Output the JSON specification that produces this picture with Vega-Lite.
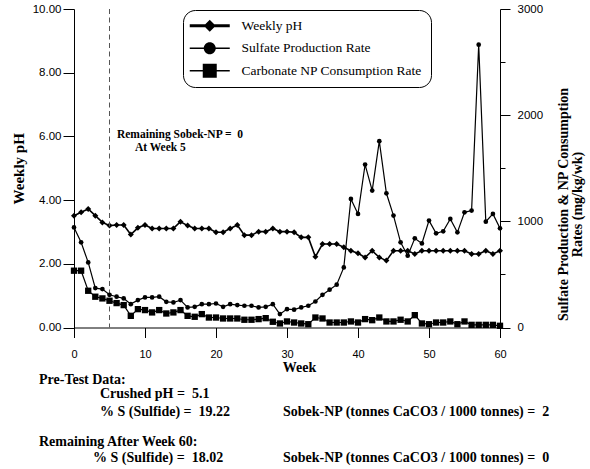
{
  "$schema": "https://vega.github.io/schema/vega-lite/v6.json",
  "width": 426,
  "height": 318.5,
  "autosize": {"type": "none"},
  "padding": {"left": 74, "top": 9, "right": 90, "bottom": 141.5},
  "background": "white",
  "config": {
    "view": {"stroke": null},
    "axis": {
      "grid": false,
      "domainColor": "black",
      "tickColor": "black",
      "labelColor": "black",
      "titleColor": "black",
      "labelFont": "Liberation Sans",
      "labelFontSize": 11,
      "titleFont": "Liberation Serif",
      "titleFontWeight": "bold"
    },
    "text": {"font": "Liberation Serif", "fontWeight": "bold", "color": "black"}
  },
  "datasets": {
    "ph": [
      {"week": 0, "series": "Weekly pH", "value": 3.51},
      {"week": 1, "series": "Weekly pH", "value": 3.62},
      {"week": 2, "series": "Weekly pH", "value": 3.72},
      {"week": 3, "series": "Weekly pH", "value": 3.51},
      {"week": 4, "series": "Weekly pH", "value": 3.30},
      {"week": 5, "series": "Weekly pH", "value": 3.20},
      {"week": 6, "series": "Weekly pH", "value": 3.22},
      {"week": 7, "series": "Weekly pH", "value": 3.22},
      {"week": 8, "series": "Weekly pH", "value": 2.92},
      {"week": 9, "series": "Weekly pH", "value": 3.13},
      {"week": 10, "series": "Weekly pH", "value": 3.22},
      {"week": 11, "series": "Weekly pH", "value": 3.11},
      {"week": 12, "series": "Weekly pH", "value": 3.11},
      {"week": 13, "series": "Weekly pH", "value": 3.11},
      {"week": 14, "series": "Weekly pH", "value": 3.11},
      {"week": 15, "series": "Weekly pH", "value": 3.32},
      {"week": 16, "series": "Weekly pH", "value": 3.20},
      {"week": 17, "series": "Weekly pH", "value": 3.11},
      {"week": 18, "series": "Weekly pH", "value": 3.11},
      {"week": 19, "series": "Weekly pH", "value": 3.11},
      {"week": 20, "series": "Weekly pH", "value": 2.99},
      {"week": 21, "series": "Weekly pH", "value": 2.99},
      {"week": 22, "series": "Weekly pH", "value": 3.11},
      {"week": 23, "series": "Weekly pH", "value": 3.22},
      {"week": 24, "series": "Weekly pH", "value": 2.90},
      {"week": 25, "series": "Weekly pH", "value": 2.90},
      {"week": 26, "series": "Weekly pH", "value": 3.01},
      {"week": 27, "series": "Weekly pH", "value": 3.01},
      {"week": 28, "series": "Weekly pH", "value": 3.11},
      {"week": 29, "series": "Weekly pH", "value": 3.01},
      {"week": 30, "series": "Weekly pH", "value": 3.01},
      {"week": 31, "series": "Weekly pH", "value": 2.99},
      {"week": 32, "series": "Weekly pH", "value": 2.83},
      {"week": 33, "series": "Weekly pH", "value": 2.83},
      {"week": 34, "series": "Weekly pH", "value": 2.22},
      {"week": 35, "series": "Weekly pH", "value": 2.62},
      {"week": 36, "series": "Weekly pH", "value": 2.62},
      {"week": 37, "series": "Weekly pH", "value": 2.62},
      {"week": 38, "series": "Weekly pH", "value": 2.52},
      {"week": 39, "series": "Weekly pH", "value": 2.41},
      {"week": 40, "series": "Weekly pH", "value": 2.33},
      {"week": 41, "series": "Weekly pH", "value": 2.20},
      {"week": 42, "series": "Weekly pH", "value": 2.41},
      {"week": 43, "series": "Weekly pH", "value": 2.20},
      {"week": 44, "series": "Weekly pH", "value": 2.10},
      {"week": 45, "series": "Weekly pH", "value": 2.41},
      {"week": 46, "series": "Weekly pH", "value": 2.41},
      {"week": 47, "series": "Weekly pH", "value": 2.41},
      {"week": 48, "series": "Weekly pH", "value": 2.31},
      {"week": 49, "series": "Weekly pH", "value": 2.41},
      {"week": 50, "series": "Weekly pH", "value": 2.41},
      {"week": 51, "series": "Weekly pH", "value": 2.41},
      {"week": 52, "series": "Weekly pH", "value": 2.41},
      {"week": 53, "series": "Weekly pH", "value": 2.41},
      {"week": 54, "series": "Weekly pH", "value": 2.41},
      {"week": 55, "series": "Weekly pH", "value": 2.41},
      {"week": 56, "series": "Weekly pH", "value": 2.31},
      {"week": 57, "series": "Weekly pH", "value": 2.31},
      {"week": 58, "series": "Weekly pH", "value": 2.41},
      {"week": 59, "series": "Weekly pH", "value": 2.31},
      {"week": 60, "series": "Weekly pH", "value": 2.41}
    ],
    "rates": [
      {"week": 0, "series": "Sulfate Production Rate", "value": 943},
      {"week": 1, "series": "Sulfate Production Rate", "value": 802},
      {"week": 2, "series": "Sulfate Production Rate", "value": 613},
      {"week": 3, "series": "Sulfate Production Rate", "value": 371},
      {"week": 4, "series": "Sulfate Production Rate", "value": 362},
      {"week": 5, "series": "Sulfate Production Rate", "value": 308},
      {"week": 6, "series": "Sulfate Production Rate", "value": 290},
      {"week": 7, "series": "Sulfate Production Rate", "value": 274},
      {"week": 8, "series": "Sulfate Production Rate", "value": 220},
      {"week": 9, "series": "Sulfate Production Rate", "value": 258},
      {"week": 10, "series": "Sulfate Production Rate", "value": 283},
      {"week": 11, "series": "Sulfate Production Rate", "value": 283},
      {"week": 12, "series": "Sulfate Production Rate", "value": 290},
      {"week": 13, "series": "Sulfate Production Rate", "value": 242},
      {"week": 14, "series": "Sulfate Production Rate", "value": 236},
      {"week": 15, "series": "Sulfate Production Rate", "value": 258},
      {"week": 16, "series": "Sulfate Production Rate", "value": 189},
      {"week": 17, "series": "Sulfate Production Rate", "value": 195},
      {"week": 18, "series": "Sulfate Production Rate", "value": 220},
      {"week": 19, "series": "Sulfate Production Rate", "value": 220},
      {"week": 20, "series": "Sulfate Production Rate", "value": 226},
      {"week": 21, "series": "Sulfate Production Rate", "value": 195},
      {"week": 22, "series": "Sulfate Production Rate", "value": 220},
      {"week": 23, "series": "Sulfate Production Rate", "value": 211},
      {"week": 24, "series": "Sulfate Production Rate", "value": 205},
      {"week": 25, "series": "Sulfate Production Rate", "value": 205},
      {"week": 26, "series": "Sulfate Production Rate", "value": 189},
      {"week": 27, "series": "Sulfate Production Rate", "value": 195},
      {"week": 28, "series": "Sulfate Production Rate", "value": 220},
      {"week": 29, "series": "Sulfate Production Rate", "value": 126},
      {"week": 30, "series": "Sulfate Production Rate", "value": 173},
      {"week": 31, "series": "Sulfate Production Rate", "value": 168},
      {"week": 32, "series": "Sulfate Production Rate", "value": 189},
      {"week": 33, "series": "Sulfate Production Rate", "value": 205},
      {"week": 34, "series": "Sulfate Production Rate", "value": 245},
      {"week": 35, "series": "Sulfate Production Rate", "value": 308},
      {"week": 36, "series": "Sulfate Production Rate", "value": 356},
      {"week": 37, "series": "Sulfate Production Rate", "value": 403},
      {"week": 38, "series": "Sulfate Production Rate", "value": 566},
      {"week": 39, "series": "Sulfate Production Rate", "value": 1211},
      {"week": 40, "series": "Sulfate Production Rate", "value": 1070},
      {"week": 41, "series": "Sulfate Production Rate", "value": 1535},
      {"week": 42, "series": "Sulfate Production Rate", "value": 1290},
      {"week": 43, "series": "Sulfate Production Rate", "value": 1755},
      {"week": 44, "series": "Sulfate Production Rate", "value": 1264},
      {"week": 45, "series": "Sulfate Production Rate", "value": 1054},
      {"week": 46, "series": "Sulfate Production Rate", "value": 802},
      {"week": 47, "series": "Sulfate Production Rate", "value": 676},
      {"week": 48, "series": "Sulfate Production Rate", "value": 840},
      {"week": 49, "series": "Sulfate Production Rate", "value": 792},
      {"week": 50, "series": "Sulfate Production Rate", "value": 1007},
      {"week": 51, "series": "Sulfate Production Rate", "value": 887},
      {"week": 52, "series": "Sulfate Production Rate", "value": 906},
      {"week": 53, "series": "Sulfate Production Rate", "value": 1023},
      {"week": 54, "series": "Sulfate Production Rate", "value": 896},
      {"week": 55, "series": "Sulfate Production Rate", "value": 1085},
      {"week": 56, "series": "Sulfate Production Rate", "value": 1101},
      {"week": 57, "series": "Sulfate Production Rate", "value": 2664},
      {"week": 58, "series": "Sulfate Production Rate", "value": 997},
      {"week": 59, "series": "Sulfate Production Rate", "value": 1070},
      {"week": 60, "series": "Sulfate Production Rate", "value": 934},
      {"week": 0, "series": "Carbonate NP Consumption Rate", "value": 535},
      {"week": 1, "series": "Carbonate NP Consumption Rate", "value": 535},
      {"week": 2, "series": "Carbonate NP Consumption Rate", "value": 346},
      {"week": 3, "series": "Carbonate NP Consumption Rate", "value": 290},
      {"week": 4, "series": "Carbonate NP Consumption Rate", "value": 274},
      {"week": 5, "series": "Carbonate NP Consumption Rate", "value": 252},
      {"week": 6, "series": "Carbonate NP Consumption Rate", "value": 230},
      {"week": 7, "series": "Carbonate NP Consumption Rate", "value": 211},
      {"week": 8, "series": "Carbonate NP Consumption Rate", "value": 110},
      {"week": 9, "series": "Carbonate NP Consumption Rate", "value": 173},
      {"week": 10, "series": "Carbonate NP Consumption Rate", "value": 164},
      {"week": 11, "series": "Carbonate NP Consumption Rate", "value": 142},
      {"week": 12, "series": "Carbonate NP Consumption Rate", "value": 164},
      {"week": 13, "series": "Carbonate NP Consumption Rate", "value": 132},
      {"week": 14, "series": "Carbonate NP Consumption Rate", "value": 142},
      {"week": 15, "series": "Carbonate NP Consumption Rate", "value": 164},
      {"week": 16, "series": "Carbonate NP Consumption Rate", "value": 110},
      {"week": 17, "series": "Carbonate NP Consumption Rate", "value": 101},
      {"week": 18, "series": "Carbonate NP Consumption Rate", "value": 126},
      {"week": 19, "series": "Carbonate NP Consumption Rate", "value": 94},
      {"week": 20, "series": "Carbonate NP Consumption Rate", "value": 94},
      {"week": 21, "series": "Carbonate NP Consumption Rate", "value": 85},
      {"week": 22, "series": "Carbonate NP Consumption Rate", "value": 85},
      {"week": 23, "series": "Carbonate NP Consumption Rate", "value": 85},
      {"week": 24, "series": "Carbonate NP Consumption Rate", "value": 73},
      {"week": 25, "series": "Carbonate NP Consumption Rate", "value": 73},
      {"week": 26, "series": "Carbonate NP Consumption Rate", "value": 79},
      {"week": 27, "series": "Carbonate NP Consumption Rate", "value": 88},
      {"week": 28, "series": "Carbonate NP Consumption Rate", "value": 54},
      {"week": 29, "series": "Carbonate NP Consumption Rate", "value": 38},
      {"week": 30, "series": "Carbonate NP Consumption Rate", "value": 57},
      {"week": 31, "series": "Carbonate NP Consumption Rate", "value": 47},
      {"week": 32, "series": "Carbonate NP Consumption Rate", "value": 38},
      {"week": 33, "series": "Carbonate NP Consumption Rate", "value": 31},
      {"week": 34, "series": "Carbonate NP Consumption Rate", "value": 94},
      {"week": 35, "series": "Carbonate NP Consumption Rate", "value": 85},
      {"week": 36, "series": "Carbonate NP Consumption Rate", "value": 47},
      {"week": 37, "series": "Carbonate NP Consumption Rate", "value": 47},
      {"week": 38, "series": "Carbonate NP Consumption Rate", "value": 47},
      {"week": 39, "series": "Carbonate NP Consumption Rate", "value": 57},
      {"week": 40, "series": "Carbonate NP Consumption Rate", "value": 47},
      {"week": 41, "series": "Carbonate NP Consumption Rate", "value": 79},
      {"week": 42, "series": "Carbonate NP Consumption Rate", "value": 69},
      {"week": 43, "series": "Carbonate NP Consumption Rate", "value": 94},
      {"week": 44, "series": "Carbonate NP Consumption Rate", "value": 57},
      {"week": 45, "series": "Carbonate NP Consumption Rate", "value": 57},
      {"week": 46, "series": "Carbonate NP Consumption Rate", "value": 73},
      {"week": 47, "series": "Carbonate NP Consumption Rate", "value": 57},
      {"week": 48, "series": "Carbonate NP Consumption Rate", "value": 116},
      {"week": 49, "series": "Carbonate NP Consumption Rate", "value": 38},
      {"week": 50, "series": "Carbonate NP Consumption Rate", "value": 31},
      {"week": 51, "series": "Carbonate NP Consumption Rate", "value": 47},
      {"week": 52, "series": "Carbonate NP Consumption Rate", "value": 47},
      {"week": 53, "series": "Carbonate NP Consumption Rate", "value": 57},
      {"week": 54, "series": "Carbonate NP Consumption Rate", "value": 31},
      {"week": 55, "series": "Carbonate NP Consumption Rate", "value": 57},
      {"week": 56, "series": "Carbonate NP Consumption Rate", "value": 25},
      {"week": 57, "series": "Carbonate NP Consumption Rate", "value": 25},
      {"week": 58, "series": "Carbonate NP Consumption Rate", "value": 25},
      {"week": 59, "series": "Carbonate NP Consumption Rate", "value": 25},
      {"week": 60, "series": "Carbonate NP Consumption Rate", "value": 16}
    ]
  },
  "layer": [
    {
      "data": {"name": "ph"},
      "layer": [
        {
          "mark": {"type": "line", "color": "black", "strokeWidth": 1.6},
          "encoding": {
            "x": {
              "field": "week", "type": "quantitative",
              "scale": {"domain": [0, 60], "nice": false},
              "axis": {
                "values": [0, 5, 10, 15, 20, 25, 30, 35, 40, 45, 50, 55, 60],
                "labelExpr": "datum.value % 10 === 0 ? format(datum.value, 'd') : ''",
                "tickSize": {"condition": {"test": "datum.value % 10 !== 0", "value": 5}, "value": 10},
                "labelPadding": 11,
                "labelFlush": false,
                "title": "Week",
                "titleFontSize": 14,
                "titlePadding": 1,
                "titleX": 225
              }
            },
            "y": {
              "field": "value", "type": "quantitative",
              "scale": {"domain": [0, 10], "nice": false},
              "axis": {
                "values": [0, 1, 2, 3, 4, 5, 6, 7, 8, 9, 10],
                "labelExpr": "datum.value % 2 === 0 ? format(datum.value, '.2f') : ''",
                "tickSize": {"condition": {"test": "datum.value % 2 !== 0", "value": 5}, "value": 11},
                "labelPadding": 2,
                "labelFontSize": 11.5,
                "title": "Weekly pH",
                "titleFontSize": 15,
                "titlePadding": 6
              }
            }
          }
        },
        {
          "mark": {"type": "point", "shape": "diamond", "filled": true, "color": "black", "size": 36, "opacity": 1},
          "encoding": {
            "x": {"field": "week", "type": "quantitative"},
            "y": {"field": "value", "type": "quantitative"}
          }
        },
        {
          "transform": [{"filter": "false"}],
          "mark": {"type": "point", "filled": true, "color": "black", "opacity": 1},
          "encoding": {
            "x": {"field": "week", "type": "quantitative"},
            "y": {"field": "value", "type": "quantitative"},
            "shape": {
              "field": "series", "type": "nominal",
              "scale": {
                "domain": ["Weekly pH", "Sulfate Production Rate", "Carbonate NP Consumption Rate"],
                "range": [
                  "M-4,-0.3H4V0.3H-4Z M0,-1.2L1.2,0L0,1.2L-1.2,0Z",
                  "M-4,-0.13H4V0.13H-4Z M1.2,0A1.2,1.2,0,1,1,-1.2,0A1.2,1.2,0,1,1,1.2,0Z",
                  "M-4,-0.13H4V0.13H-4Z M-1.4,-1.4H1.4V1.4H-1.4Z"
                ]
              },
              "legend": {
                "orient": "none",
                "legendX": 109,
                "legendY": 1,
                "title": null,
                "strokeColor": "black",
                "fillColor": "white",
                "cornerRadius": 12,
                "padding": 9,
                "labelFont": "Liberation Serif",
                "labelFontSize": 13.5,
                "labelColor": "black",
                "labelLimit": 400,
                "symbolSize": 100,
                "symbolOffset": 11,
                "labelOffset": 25,
                "rowPadding": 7.5,
                "symbolFillColor": "black",
                "symbolStrokeWidth": 0
              }
            }
          }
        },
        {
          "data": {"values": [{}]},
          "mark": {"type": "rule", "color": "#555555", "strokeWidth": 1, "strokeDash": [5, 3.5]},
          "encoding": {"x": {"datum": 5}}
        },
        {
          "data": {"values": [{}]},
          "mark": {"type": "text", "fontSize": 11.5, "align": "left", "baseline": "middle"},
          "encoding": {"x": {"datum": 6.05}, "y": {"datum": 6.03}, "text": {"value": "Remaining Sobek-NP =\u00a0 0"}}
        },
        {
          "data": {"values": [{}]},
          "mark": {"type": "text", "fontSize": 11.5, "align": "left", "baseline": "middle"},
          "encoding": {"x": {"datum": 8.58}, "y": {"datum": 5.65}, "text": {"value": "At Week 5"}}
        },
        {
          "data": {"values": [{}]},
          "mark": {"type": "text", "fontSize": 14, "align": "left", "baseline": "middle"},
          "encoding": {"x": {"datum": -4.93}, "y": {"datum": -1.65}, "text": {"value": "Pre-Test Data:"}}
        },
        {
          "data": {"values": [{}]},
          "mark": {"type": "text", "fontSize": 14, "align": "left", "baseline": "middle"},
          "encoding": {"x": {"datum": 3.66}, "y": {"datum": -2.09}, "text": {"value": "Crushed pH =\u00a0 5.1"}}
        },
        {
          "data": {"values": [{}]},
          "mark": {"type": "text", "fontSize": 14, "align": "left", "baseline": "middle"},
          "encoding": {"x": {"datum": 3.66}, "y": {"datum": -2.65}, "text": {"value": "% S (Sulfide) =\u00a0 19.22"}}
        },
        {
          "data": {"values": [{}]},
          "mark": {"type": "text", "fontSize": 14, "align": "left", "baseline": "middle"},
          "encoding": {"x": {"datum": 29.44}, "y": {"datum": -2.65}, "text": {"value": "Sobek-NP (tonnes CaCO3 / 1000 tonnes) =\u00a0 2"}}
        },
        {
          "data": {"values": [{}]},
          "mark": {"type": "text", "fontSize": 14, "align": "left", "baseline": "middle"},
          "encoding": {"x": {"datum": -4.93}, "y": {"datum": -3.6}, "text": {"value": "Remaining After Week 60:"}}
        },
        {
          "data": {"values": [{}]},
          "mark": {"type": "text", "fontSize": 14, "align": "left", "baseline": "middle"},
          "encoding": {"x": {"datum": 2.68}, "y": {"datum": -4.1}, "text": {"value": "% S (Sulfide) =\u00a0 18.02"}}
        },
        {
          "data": {"values": [{}]},
          "mark": {"type": "text", "fontSize": 14, "align": "left", "baseline": "middle"},
          "encoding": {"x": {"datum": 29.44}, "y": {"datum": -4.1}, "text": {"value": "Sobek-NP (tonnes CaCO3 / 1000 tonnes) =\u00a0 0"}}
        }
      ]
    },
    {
      "data": {"name": "rates"},
      "layer": [
        {
          "mark": {"type": "line", "color": "black", "strokeWidth": 1.2},
          "encoding": {
            "x": {"field": "week", "type": "quantitative"},
            "y": {
              "field": "value", "type": "quantitative",
              "scale": {"domain": [0, 3000], "nice": false},
              "axis": {
                "orient": "right",
                "values": [0, 500, 1000, 1500, 2000, 2500, 3000],
                "labelExpr": "datum.value % 1000 === 0 ? format(datum.value, 'd') : ''",
                "tickSize": {"condition": {"test": "datum.value % 1000 !== 0", "value": 5}, "value": 10},
                "labelPadding": 7,
                "labelFontSize": 11.5,
                "title": ["Sulfate Production & NP Consumption", "Rates (mg/kg/wk)"],
                "titleFontSize": 14,
                "titleLineHeight": 14,
                "titleAngle": -90,
                "titleAlign": "center",
                "titleBaseline": "middle",
                "titleX": 63,
                "titleY": 195
              }
            },
            "detail": {"field": "series", "type": "nominal"}
          }
        },
        {
          "transform": [{"filter": "datum.series === 'Sulfate Production Rate'"}],
          "mark": {"type": "point", "shape": "circle", "filled": true, "color": "black", "size": 22, "opacity": 1},
          "encoding": {
            "x": {"field": "week", "type": "quantitative"},
            "y": {"field": "value", "type": "quantitative"}
          }
        },
        {
          "transform": [{"filter": "datum.series === 'Carbonate NP Consumption Rate'"}],
          "mark": {"type": "point", "shape": "square", "filled": true, "color": "black", "size": 40, "opacity": 1},
          "encoding": {
            "x": {"field": "week", "type": "quantitative"},
            "y": {"field": "value", "type": "quantitative"}
          }
        }
      ]
    }
  ],
  "resolve": {"scale": {"y": "independent"}, "axis": {"y": "independent"}}
}
